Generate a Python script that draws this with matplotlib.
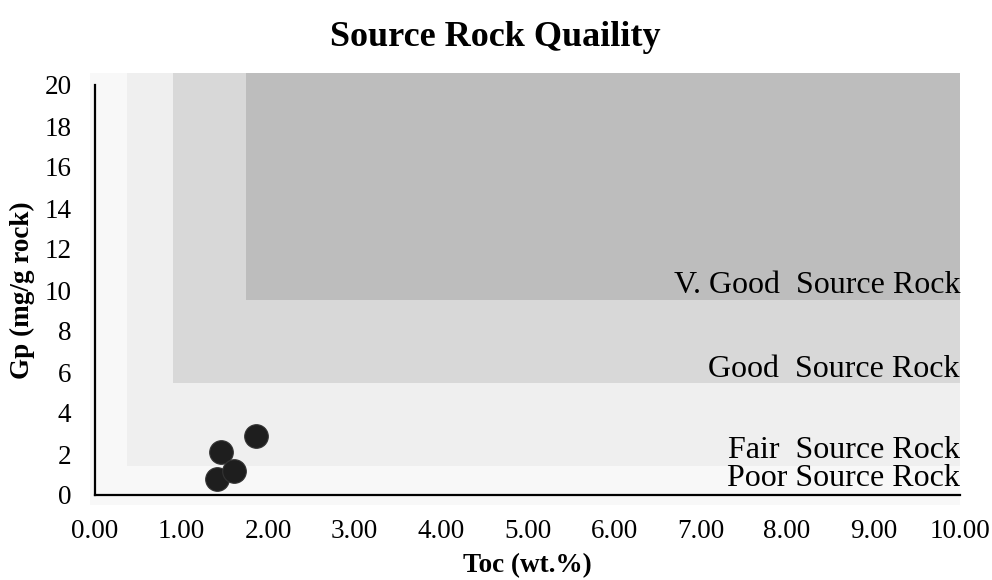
import matplotlib
matplotlib.use("Agg")
import matplotlib.pyplot as plt
from matplotlib.patches import Rectangle

plt.rcParams['font.family'] = ['Liberation Serif', 'DejaVu Serif']

# Data
toc = [1.86, 1.46, 1.41, 1.61]
gp = [2.89, 2.11, 0.78, 1.17]

# Quality zones
zone_x0 = [-0.06, 0.37, 0.90, 1.75]
zone_y0 = [-0.5, 1.42, 5.46, 9.5]
zone_colors = ['#f8f8f8', '#efefef', '#d8d8d8', '#bdbdbd']
zone_labels = ['Poor Source Rock', 'Fair  Source Rock', 'Good  Source Rock', 'V. Good  Source Rock']
label_y = [0.80, 2.15, 6.1, 10.2]
zone_top = 20.6
zone_right = 10.0

x_ticks = [0, 1, 2, 3, 4, 5, 6, 7, 8, 9, 10]
y_ticks = [0, 2, 4, 6, 8, 10, 12, 14, 16, 18, 20]

fig = plt.figure(figsize=(9.92, 5.80), dpi=100)
ax = fig.add_axes([95/992, 85/580, (960-95)/992, (495-85)/580])
ax.set_xlim(0, 10)
ax.set_ylim(0, 20)

for x0, y0, c in zip(zone_x0, zone_y0, zone_colors):
    ax.add_patch(Rectangle((x0, y0), zone_right - x0, zone_top - y0,
                           facecolor=c, edgecolor='none', clip_on=False, zorder=0))

for lab, ly in zip(zone_labels, label_y):
    ax.text(10.0, ly, lab, ha='right', va='center', fontsize=23, color='black', zorder=2)

ax.scatter(toc, gp, s=17**2, c='#1e1e1e', edgecolors='#333333', linewidths=0.8, zorder=3)

ax.set_xticks(x_ticks)
ax.set_xticklabels([f"{v:.2f}" for v in x_ticks])
ax.set_yticks(y_ticks)
ax.set_yticklabels([str(v) for v in y_ticks])
ax.tick_params(length=0, labelsize=19.5)
ax.tick_params(axis='x', pad=17)
ax.tick_params(axis='y', pad=17)

for s in ['top', 'right']:
    ax.spines[s].set_visible(False)
for s in ['left', 'bottom']:
    ax.spines[s].set_linewidth(1.6)
    ax.spines[s].set_color('black')
    ax.spines[s].set_zorder(4)

ax.set_xlabel('Toc (wt.%)', fontsize=19.5, fontweight='bold', labelpad=7)
ax.set_ylabel('Gp (mg/g rock)', fontsize=19.5, fontweight='bold', labelpad=7)
fig.text(495/992, 1 - 37/580, 'Source Rock Quaility', ha='center', va='center',
         fontsize=26, fontweight='bold')

fig.savefig('out.png', dpi=100)
